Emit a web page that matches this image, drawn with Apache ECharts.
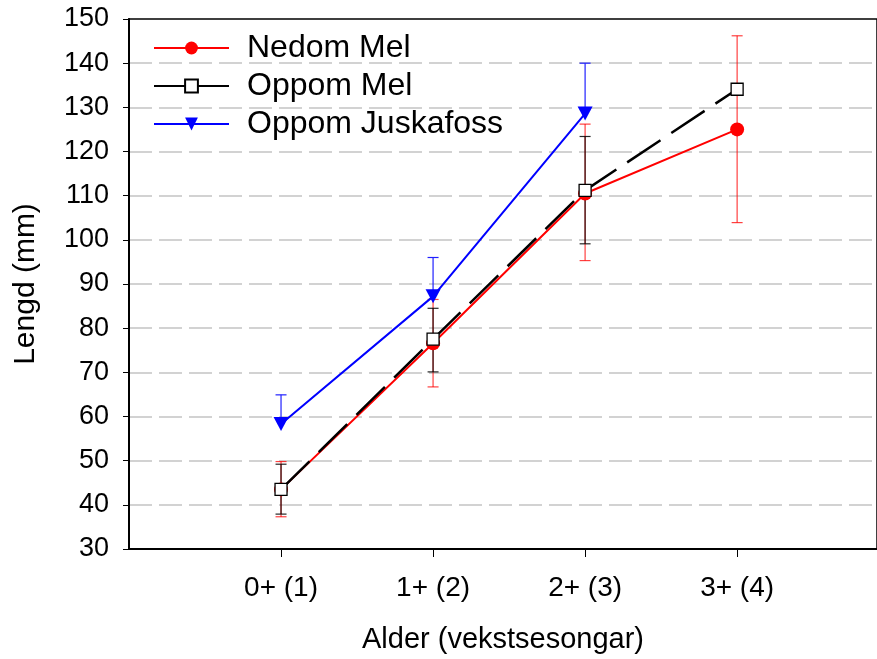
<!DOCTYPE html>
<html>
<head>
<meta charset="utf-8">
<script src="https://cdn.jsdelivr.net/npm/echarts@6/dist/echarts.min.js"></script>
<style>html,body{margin:0;padding:0;background:#fff;}#c{width:877px;height:659px;}</style>
</head>
<body>
<div id="c"></div>
<script>
// ---- data ----
const categories = ['0+ (1)', '1+ (2)', '2+ (3)', '3+ (4)'];
const seriesNames = ['Nedom Mel', 'Oppom Mel', 'Oppom Juskafoss'];
const nedomMel      = [43.5, 76.6, 110.5, 125.0];
const nedomMelLow   = [37.3, 66.7, 95.3, 103.9];
const nedomMelHigh  = [49.8, 86.5, 126.2, 146.2];
const oppomMel      = [43.5, 77.5, 111.2, 134.1];
const oppomMelLow   = [37.9, 70.1, 99.1, null];
const oppomMelHigh  = [49.2, 84.5, 123.4, null];
const juskafoss     = [58.3, 87.2, 128.6];
const juskafossHigh = [64.9, 96.0, 140.0];
const yTicks = [30, 40, 50, 60, 70, 80, 90, 100, 110, 120, 130, 140, 150];

const pos = i => i + 1;
const toPoints = arr => arr.map((v, i) => [pos(i), v]);
const toErr = (low, high, mean) => high.map((h, i) => {
  if (h == null) return null;
  const l = low ? low[i] : mean[i];
  return [pos(i), l, h, low ? 1 : 0];
}).filter(d => d);

function errRender(color, width) {
  return function (params, api) {
    const x = api.value(0);
    const lo = api.coord([x, api.value(1)]);
    const hi = api.coord([x, api.value(2)]);
    const cw = 5.5;
    const style = { stroke: color, lineWidth: width };
    const children = [
      { type: 'line', shape: { x1: lo[0], y1: lo[1], x2: hi[0], y2: hi[1] }, style },
      { type: 'line', shape: { x1: hi[0] - cw, y1: hi[1], x2: hi[0] + cw, y2: hi[1] }, style }
    ];
    if (api.value(3) === 1) {
      children.push({ type: 'line', shape: { x1: lo[0] - cw, y1: lo[1], x2: lo[0] + cw, y2: lo[1] }, style });
    }
    return { type: 'group', children };
  };
}

const chart = echarts.init(document.getElementById('c'), null, { renderer: 'canvas' });
const sans = "'Liberation Sans', Arial, sans-serif";

chart.setOption({
  animation: false,
  backgroundColor: '#fff',
  grid: { left: 129, right: 0, top: 19, bottom: 110, show: true, borderColor: '#000', borderWidth: 1.5 },
  legend: {
    data: seriesNames,
    orient: 'vertical',
    left: 148, top: 27,
    itemWidth: 75, itemHeight: 16, itemGap: 6,
    lineStyle: { type: 'solid' },
    textStyle: { fontFamily: sans, fontSize: 32, lineHeight: 30, color: '#000', padding: [0, 0, 0, 13] }
  },
  xAxis: {
    type: 'value', min: 0, max: 4.92, interval: 1,
    name: 'Alder (vekstsesongar)', nameLocation: 'middle', nameGap: 76,
    nameTextStyle: { fontFamily: sans, fontSize: 29, color: '#000' },
    axisLine: { onZero: false, lineStyle: { color: '#000', width: 2 } },
    axisTick: { show: true, length: 8, lineStyle: { color: '#000', width: 1 }, customValues: [1, 2, 3, 4] },
    axisLabel: {
      customValues: [1, 2, 3, 4],
      formatter: v => categories[Math.round(v) - 1] || '',
      fontFamily: sans, fontSize: 28, color: '#000', margin: 25
    },
    splitLine: { show: false }
  },
  yAxis: {
    type: 'value', min: yTicks[0], max: yTicks[yTicks.length - 1], interval: 10,
    name: 'Lengd (mm)', nameLocation: 'middle', nameGap: 88,
    nameTextStyle: { fontFamily: sans, fontSize: 30, color: '#000' },
    axisLine: { show: true, lineStyle: { color: '#000', width: 2 } },
    axisTick: { show: true, length: 6, lineStyle: { color: '#000', width: 1 } },
    axisLabel: { fontFamily: sans, fontSize: 27, color: '#000', margin: 20 },
    splitLine: { show: true, showMinLine: false, showMaxLine: false,
      lineStyle: { color: '#c4c4c4', width: 1.5, type: [23, 7] } }
  },
  series: [
    { type: 'custom', name: 'errNedom', z: 3, renderItem: errRender('rgba(255,0,0,0.75)', 1.2),
      data: toErr(nedomMelLow, nedomMelHigh, nedomMel), encode: { x: 0, y: [1, 2] } },
    { type: 'custom', name: 'errOppom', z: 3, renderItem: errRender('rgba(0,0,0,0.85)', 1.2),
      data: toErr(oppomMelLow, oppomMelHigh, oppomMel), encode: { x: 0, y: [1, 2] } },
    { type: 'custom', name: 'errJuska', z: 3, renderItem: errRender('#2020ff', 1.2),
      data: toErr(null, juskafossHigh, juskafoss), encode: { x: 0, y: [1, 2] } },
    { type: 'line', name: seriesNames[0], z: 4, data: toPoints(nedomMel),
      symbol: 'circle', symbolSize: 14, showAllSymbol: true,
      itemStyle: { color: '#ff0000', borderWidth: 0 },
      lineStyle: { color: '#ff0000', width: 2 } },
    { type: 'line', name: seriesNames[1], z: 5, data: toPoints(oppomMel),
      symbol: 'rect', symbolSize: 12, showAllSymbol: true,
      itemStyle: { color: '#ffffff', borderColor: '#000', borderWidth: 1.3 },
      lineStyle: { color: '#000', width: 2.5, type: [40, 13] } },
    { type: 'line', name: seriesNames[2], z: 5, data: toPoints(juskafoss),
      symbol: 'triangle', symbolRotate: 180, symbolSize: [15, 14], showAllSymbol: true,
      itemStyle: { color: '#0000ff', borderWidth: 0 },
      lineStyle: { color: '#0000ff', width: 2 } }
  ]
});
</script>
</body>
</html>
